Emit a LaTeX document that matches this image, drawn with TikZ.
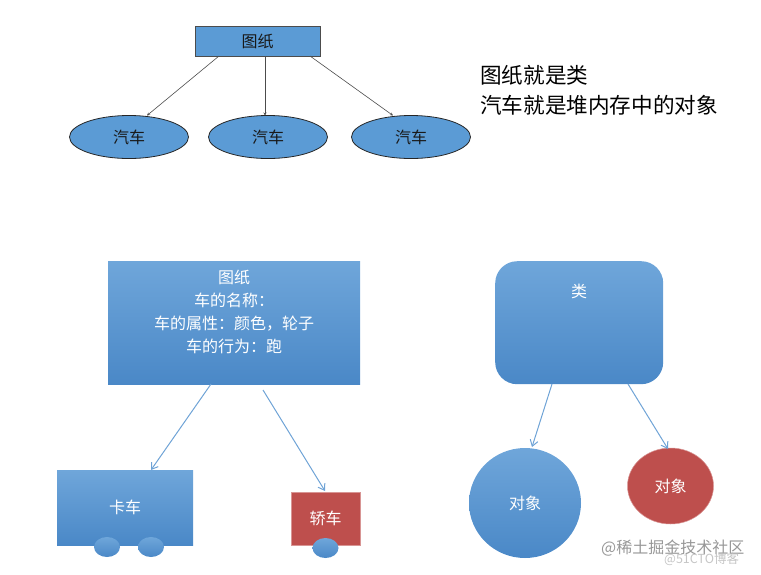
\documentclass[tikz,border=0pt]{standalone}
\usepackage{fontspec}
\setmainfont{Noto Sans CJK SC}
\usetikzlibrary{shapes.geometric,arrows.meta}
\definecolor{flatblue}{HTML}{5B9BD5}
\definecolor{topblue}{HTML}{6FA6DA}
\definecolor{botblue}{HTML}{4A88C7}
\definecolor{linkblue}{HTML}{6FA3D6}
\definecolor{brick}{HTML}{BE4F4D}
\tikzset{
  plainbox/.style={draw=black!70,line width=0.9pt,fill=flatblue,minimum width=125pt,minimum height=30pt,inner sep=0pt,font=\fontsize{16}{16}\selectfont,text=black!90},
  plainoval/.style={ellipse,draw=black!85,line width=0.8pt,fill=flatblue,minimum width=119pt,minimum height=43pt,inner sep=0pt,font=\fontsize{16}{16}\selectfont,text=black!90},
  grad/.style={top color=topblue,bottom color=botblue,draw=none,inner sep=0pt,text=white,font=\fontsize{16}{16}\selectfont,align=center},
  whitetext/.style={inner sep=0pt,text=white,align=center,font=\fontsize{16}{22.8}\selectfont},
  redfill/.style={fill=brick,draw=brick!60!white,line width=0.5pt,inner sep=0pt,text=white,font=\fontsize{16}{16}\selectfont},
  wheel/.style={ellipse,grad,minimum width=26pt,minimum height=20pt},
  blackarrow/.style={draw=black!70,line width=0.6pt,-{Stealth[length=3pt,width=3pt]}},
  bluearrow/.style={draw=linkblue,line width=1pt,-{Straight Barb[length=6pt,width=8pt]}},
  note/.style={anchor=west,inner sep=0pt,text=black,font=\fontsize{21.6}{21.6}\selectfont},
  mark text/.style={anchor=west,inner sep=0pt,text=black!45,fill opacity=0.9}
}
\begin{document}
\begin{tikzpicture}[x=1pt,y=-1pt]
\useasboundingbox (0,0) rectangle (761,574);
% top tree
\node[plainbox] (paper) at (257.5,41) {图纸};
\node[plainoval] (carA) at (129,137) {汽车};
\node[plainoval] (carB) at (268,137) {汽车};
\node[plainoval] (carC) at (411,137) {汽车};
\coordinate (pa) at (219,56);
\coordinate (pb) at (265,56);
\coordinate (pc) at (310,56);
\coordinate (ea) at (147,115.5);
\coordinate (eb) at (265,115.5);
\coordinate (ec) at (393,115.5);
\draw[blackarrow] (pa) -- (ea);
\draw[blackarrow] (pb) -- (eb);
\draw[blackarrow] (pc) -- (ec);
\node[note] (noteA) at (480,75) {图纸就是类};
\node[note] (noteB) at (480,105) {汽车就是堆内存中的对象};
% lower left
\node[grad,minimum width=252pt,minimum height=123pt,anchor=north west] (plan) at (108,261) {};
\node[whitetext,anchor=center] (planText) at (234,312) {图纸\\车的名称：\\车的属性：颜色，轮子\\车的行为：跑};
\node[grad,minimum width=136pt,minimum height=75pt] (truck) at (125,507.5) {卡车};
\node[redfill,minimum width=69pt,minimum height=53pt] (sedan) at (325.5,518.5) {轿车};
\node[wheel] (wA) at (107,547) {};
\node[wheel] (wB) at (151,547) {};
\node[wheel] (wC) at (325.5,548) {};
\coordinate (sa) at (211,384);
\coordinate (ta) at (151,470);
\coordinate (sb) at (263,390);
\coordinate (tb) at (325,491);
\draw[bluearrow] (sa) -- (ta);
\draw[bluearrow] (sb) -- (tb);
% lower right
\node[grad,rounded corners=22pt,minimum width=168pt,minimum height=123pt,anchor=north west] (cls) at (495,261) {};
\node[whitetext,anchor=center] (clsText) at (579,291) {类};
\node[grad,ellipse,minimum width=112pt,minimum height=110pt] (objA) at (525,503) {对象};
\node[redfill,ellipse,minimum width=86pt,minimum height=76pt] (objB) at (670.5,486) {对象};
\coordinate (sc) at (552,384);
\coordinate (tc) at (532,447);
\coordinate (sd) at (628,384);
\coordinate (td) at (668,449);
\draw[bluearrow] (sc) -- (tc);
\draw[bluearrow] (sd) -- (td);
% watermarks
\node[mark text,font=\fontsize{16}{16}\selectfont] (wm1) at (601,548) {@稀土掘金技术社区};
\node[mark text,font=\fontsize{12.5}{12.5}\selectfont,text=black!25] (wm2) at (664,559) {@51CTO博客};
\end{tikzpicture}
\end{document}
